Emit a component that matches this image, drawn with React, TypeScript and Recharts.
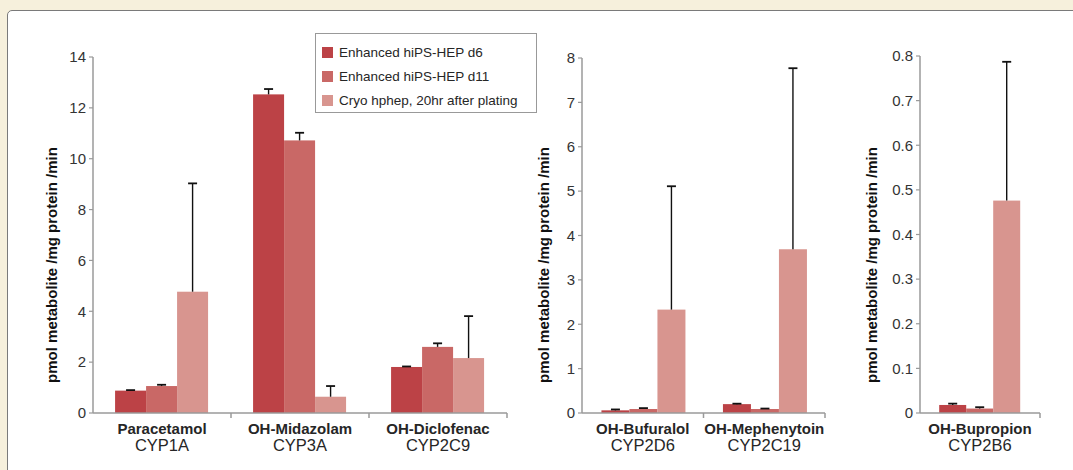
import React from "react";
import { BarChart, Bar, XAxis, YAxis, Legend, Label } from "recharts";

const FONT = "'Liberation Sans', Arial, Helvetica, sans-serif";
const AXIS = "#9a9a9a";
const TEXT = "#262626";

// series
const seriesNames = ["Enhanced hiPS-HEP d6", "Enhanced hiPS-HEP d11", "Cryo hphep, 20hr after plating"];
const seriesColors = ["#BC4246", "#C96866", "#D8958F"];
const yTitle = "pmol metabolite /mg protein /min";

// panel 1
const substrates1 = ["Paracetamol", "OH-Midazolam", "OH-Diclofenac"];
const enzymes1 = ["CYP1A", "CYP3A", "CYP2C9"];
const d6Vals1 = [0.88, 12.53, 1.81];
const d6Err1 = [0.9, 12.74, 1.83];
const d11Vals1 = [1.06, 10.72, 2.6];
const d11Err1 = [1.11, 11.02, 2.74];
const cryoVals1 = [4.77, 0.64, 2.16];
const cryoErr1 = [9.03, 1.06, 3.81];
const yTicks1 = [0, 2, 4, 6, 8, 10, 12, 14];

// panel 2
const substrates2 = ["OH-Bufuralol", "OH-Mephenytoin"];
const enzymes2 = ["CYP2D6", "CYP2C19"];
const d6Vals2 = [0.06, 0.2];
const d6Err2 = [0.08, 0.21];
const d11Vals2 = [0.09, 0.09];
const d11Err2 = [0.11, 0.1];
const cryoVals2 = [2.33, 3.69];
const cryoErr2 = [5.11, 7.77];
const yTicks2 = [0, 1, 2, 3, 4, 5, 6, 7, 8];

// panel 3
const substrates3 = ["OH-Bupropion"];
const enzymes3 = ["CYP2B6"];
const d6Vals3 = [0.018];
const d6Err3 = [0.021];
const d11Vals3 = [0.01];
const d11Err3 = [0.013];
const cryoVals3 = [0.476];
const cryoErr3 = [0.787];
const yTicks3 = [0, 0.1, 0.2, 0.3, 0.4, 0.5, 0.6, 0.7, 0.8];

function buildRows(subs: string[], enz: string[], a: number[], ae: number[], b: number[], be: number[], c: number[], ce: number[]) {
  return subs.map((s, i) => ({
    name: s, enzyme: enz[i],
    d6: a[i], d6Err: ae[i],
    d11: b[i], d11Err: be[i],
    cryo: c[i], cryoErr: ce[i],
  }));
}

const rows1 = buildRows(substrates1, enzymes1, d6Vals1, d6Err1, d11Vals1, d11Err1, cryoVals1, cryoErr1);
const rows2 = buildRows(substrates2, enzymes2, d6Vals2, d6Err2, d11Vals2, d11Err2, cryoVals2, cryoErr2);
const rows3 = buildRows(substrates3, enzymes3, d6Vals3, d6Err3, d11Vals3, d11Err3, cryoVals3, cryoErr3);

// bar plus an upper-only error whisker, scaled from the bar's own geometry
const makeShape = (key: string, errKey: string) => (p: any) => {
  const { x, y, width, height, fill, payload } = p;
  const v = payload[key];
  const e = payload[errKey];
  const base = y + height;
  const ey = v ? base - (e / v) * height : base;
  const cx = x + width / 2;
  return (
    <g>
      <rect x={x} y={y} width={width} height={height} fill={fill} />
      <line x1={cx} x2={cx} y1={y} y2={ey} stroke="#111" strokeWidth={1.4} />
      <line x1={cx - 4.5} x2={cx + 4.5} y1={ey} y2={ey} stroke="#111" strokeWidth={1.8} />
    </g>
  );
};

const CatTick = ({ x, y, payload, rows, halfBand }: any) => {
  const row = rows.find((r: any) => r.name === payload.value);
  return (
    <g>
      <line x1={x + halfBand} x2={x + halfBand} y1={y} y2={y + 5} stroke={AXIS} strokeWidth={1.5} />
      <text x={x} y={y + 21} textAnchor="middle" fontFamily={FONT} fontWeight="bold" fontSize={15} fill={TEXT}>
        {payload.value}
      </text>
      <text x={x} y={y + 38} textAnchor="middle" fontFamily={FONT} fontSize={16.5} fill={TEXT}>
        {row ? row.enzyme : ""}
      </text>
    </g>
  );
};

const YTitle = ({ cx, cy }: { cx: number; cy: number }) => (
  <text
    x={cx} y={cy} dy="0.35em" textAnchor="middle"
    transform={`rotate(-90 ${cx} ${cy})`}
    fontFamily={FONT} fontWeight="bold" fontSize={15} fill="#111"
  >
    {yTitle}
  </text>
);

const LegendBox = () => (
  <div style={{
    border: "1px solid #999", background: "#fff", padding: "6px 6px 0 6px",
    fontFamily: FONT, fontSize: 13.5, color: TEXT, width: 222, boxSizing: "border-box",
  }}>
    {seriesNames.map((n, i) => (
      <div key={n} style={{ display: "flex", alignItems: "center", height: 24, whiteSpace: "nowrap" }}>
        <span style={{ width: 11, height: 11, background: seriesColors[i], marginRight: 6, display: "inline-block" }} />
        {n}
      </div>
    ))}
  </div>
);

interface PanelProps {
  rows: any[];
  left: number;
  width: number;
  yWidth: number;
  top: number;
  right: number;
  domain: [number, number];
  ticks: number[];
  fmt?: (v: number) => string;
  titleX: number;
  legend?: boolean;
}

function Panel({ rows, left, width, yWidth, top, right, domain, ticks, fmt, titleX, legend }: PanelProps) {
  const height = 470;
  const plotW = width - yWidth - right;
  const halfBand = plotW / rows.length / 2;
  return (
    <div style={{ position: "absolute", left, top: 0 }}>
      <BarChart
        width={width}
        height={height}
        data={rows}
        margin={{ top, right, bottom: 7, left: 0 }}
        barGap={0}
        barCategoryGap="16%"
      >
        <XAxis
          dataKey="name"
          height={50}
          interval={0}
          tickSize={0}
          tickMargin={0}
          tickLine={false}
          axisLine={{ stroke: AXIS, strokeWidth: 1.5 }}
          tick={(p: any) => <CatTick {...p} rows={rows} halfBand={halfBand} />}
        />
        <YAxis
          width={yWidth}
          domain={domain}
          ticks={ticks}
          interval={0}
          tickSize={4}
          tickMargin={3}
          tickFormatter={fmt}
          axisLine={{ stroke: AXIS, strokeWidth: 1.5 }}
          tickLine={{ stroke: AXIS, strokeWidth: 1.2 }}
          tick={{ fill: "#333", fontSize: 15, fontFamily: FONT }}
        >
          <Label content={() => <YTitle cx={titleX} cy={265} />} />
        </YAxis>
        {legend && (
          <Legend
            layout="horizontal"
            align="center"
            verticalAlign="middle"
            wrapperStyle={{ position: "absolute", left: 315, top: 33, width: 222 }}
            content={() => <LegendBox />}
          />
        )}
        <Bar dataKey="d6" name={seriesNames[0]} fill={seriesColors[0]} isAnimationActive={false} shape={makeShape("d6", "d6Err")} />
        <Bar dataKey="d11" name={seriesNames[1]} fill={seriesColors[1]} isAnimationActive={false} shape={makeShape("d11", "d11Err")} />
        <Bar dataKey="cryo" name={seriesNames[2]} fill={seriesColors[2]} isAnimationActive={false} shape={makeShape("cryo", "cryoErr")} />
      </BarChart>
    </div>
  );
}

export default function App() {
  return (
    <div style={{ position: "absolute", left: 0, top: 0, width: 1073, height: 470, background: "#F6F0DC", overflow: "hidden" }}>
      <div style={{
        position: "absolute", left: 7, top: 10, width: 1100, height: 500,
        background: "#fff", border: "1.5px solid #7a7a7a", borderRadius: 5,
      }} />
      <Panel rows={rows1} left={0} width={520} yWidth={93} top={57} right={13}
        domain={[0, 14]} ticks={yTicks1} titleX={52} legend />
      <Panel rows={rows2} left={525} width={310} yWidth={57} top={58} right={10}
        domain={[0, 8]} ticks={yTicks2} titleX={19} />
      <Panel rows={rows3} left={858} width={200} yWidth={62} top={56} right={18}
        domain={[0, 0.8]} ticks={yTicks3} titleX={14}
        fmt={(v: number) => (v === 0 ? "0" : v.toFixed(1))} />
    </div>
  );
}
